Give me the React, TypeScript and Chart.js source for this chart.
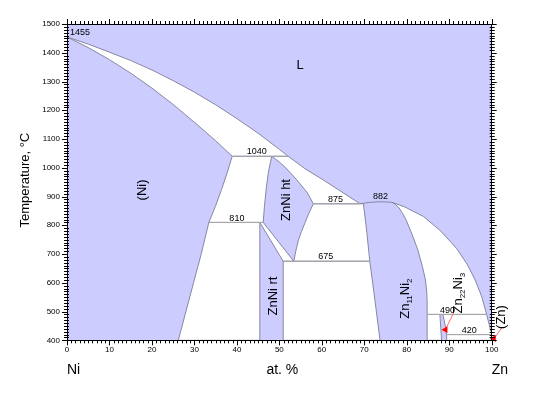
import React, { useEffect, useRef } from "react";
import { Chart, registerables } from "chart.js";

Chart.register(...registerables);

type P = [number, number];

// ---- Phase boundaries (at.% Zn, °C) ----
const liqNi: P[] = [[0, 1455], [5, 1430], [10, 1402], [15, 1373], [20, 1340], [25, 1303], [30, 1263], [35, 1219], [40, 1171], [45, 1120], [50, 1064], [52.1, 1040]];
const solNi: P[] = [[0, 1455], [5, 1418], [10, 1376], [15, 1329], [20, 1277], [25, 1220], [30, 1158], [35, 1094], [38.9, 1040]];
const solvusNiHigh: P[] = [[38.9, 1040], [37.7, 982], [36.4, 925], [35.0, 868], [33.4, 810]];
const solvusNiLow: P[] = [[33.4, 810], [31.6, 700], [29.8, 600], [28.0, 500], [26.2, 400]];
const htLeft: P[] = [[48.2, 1040], [47.4, 983], [46.9, 926], [46.5, 868], [46.2, 810]];
const htRightHigh: P[] = [[48.2, 1040], [50.0, 1020], [51.5, 1000], [54.1, 958], [56.5, 915], [58.0, 875]];
const htRightLow: P[] = [[58.0, 875], [56.9, 840], [56.0, 807], [55.2, 778], [54.5, 749], [53.9, 712], [53.4, 675]];
const liqHt: P[] = [[52.1, 1040], [56.0, 997], [60.3, 958], [64.8, 915], [69.0, 875]];
const hump: P[] = [[69.0, 875], [71.2, 879.5], [73.8, 882], [76.5, 880]];
const zn11LeftHigh: P[] = [[69.8, 875], [70.6, 775], [71.3, 675]];
const zn11LeftLow: P[] = [[71.3, 675], [72.5, 540], [73.7, 400]];
const zn11Right: P[] = [[76.5, 880], [77.4, 872], [78.2, 860], [79.0, 842], [79.8, 820], [81.2, 770], [82.6, 715], [83.8, 650], [84.4, 610], [84.7, 570], [84.8, 530], [84.8, 490]];
const zn11Vert: P[] = [[84.8, 490], [84.8, 400]];
const liqZn: P[] = [[76.5, 880], [79.5, 864], [84.0, 830], [88.0, 780], [91.7, 720], [94.2, 665], [96.1, 610], [97.7, 550], [98.8, 490]];
const liqZnLow: P[] = [[98.8, 490], [99.5, 450], [100, 420]];
const zn22Left: P[] = [[87.8, 490], [88.2, 400]];
const zn22Right: P[] = [[88.5, 490], [89.0, 455], [89.4, 420], [89.4, 400]];
const rtLeft: P[] = [[45.4, 810], [45.4, 400]];
const rtRight: P[] = [[50.9, 675], [50.9, 400]];
const znEdge: P[] = [[100, 420], [100, 400]];

// invariant reactions: temperature, from, to
const invT = [1040, 810, 875, 675, 490, 420];
const invFrom = [38.9, 33.4, 58.0, 50.9, 84.8, 89.4];
const invTo = [52.1, 46.2, 69.0, 71.3, 98.8, 100];

// arrows (start near label, tip)
const arrow1: P[] = [[91.0, 494], [89.1, 437]];
const arrow2: P[] = [[102.6, 447], [100.5, 406]];

// text
const tempLabels: [string, number, number][] = [
  ["1455", 0.7, 1471],
  ["1040", 44.7, 1056],
  ["810", 40.0, 825],
  ["875", 63.2, 890],
  ["882", 73.8, 899],
  ["675", 60.9, 690],
  ["490", 89.6, 504],
  ["420", 94.7, 433],
];
type Part = { t: string; sub?: boolean };
const phaseLabels: { parts: Part[]; x: number; y: number; rot: boolean }[] = [
  { parts: [{ t: "L" }], x: 54.9, y: 1361, rot: false },
  { parts: [{ t: "(Ni)" }], x: 17.6, y: 923, rot: true },
  { parts: [{ t: "ZnNi ht" }], x: 51.3, y: 888, rot: true },
  { parts: [{ t: "ZnNi rt" }], x: 48.4, y: 554, rot: true },
  { parts: [{ t: "Zn" }, { t: "11", sub: true }, { t: "Ni" }, { t: "2", sub: true }], x: 79.4, y: 545, rot: true },
  { parts: [{ t: "Zn" }, { t: "22", sub: true }, { t: "Ni" }, { t: "3", sub: true }], x: 91.9, y: 564, rot: true },
  { parts: [{ t: "(Zn)" }], x: 102, y: 481, rot: true },
];
const xMin = 0, xMax = 100, yMin = 400, yMax = 1500;
const xMajor = 10, xMinorStep = 1, yMajor = 100, yMinorStep = 10;

const FONT = "'Liberation Sans', Arial, sans-serif";
const BLUE = "#ccccff";
const CURVE = "#8787a3";
const INV = "#aaaaaa";

const rev = (a: P[]) => [...a].reverse();
const close = (a: P[]) => [...a, a[0]];
const toXY = (a: P[]) => a.map(([x, y]) => ({ x, y }));

const polygons: P[][] = [
  [...liqNi, ...rev(solNi)],
  [...htLeft, ...rev(solvusNiHigh)],
  [...solvusNiLow, ...rev(rtLeft)],
  [rtLeft[0], htLeft[htLeft.length - 1], htRightLow[htRightLow.length - 1], rtRight[0]],
  [...htRightHigh, ...rev(liqHt)],
  [...zn11LeftHigh, ...rev(htRightLow)],
  [rtRight[0], ...zn11LeftLow, rtRight[1]],
  [...liqZn, ...rev(zn11Right)],
  [zn11Vert[0], ...zn22Left, zn11Vert[1]],
  [zn22Right[0], zn22Right[1], zn22Right[2], ...rev(liqZnLow)],
  [zn22Right[2], znEdge[0], znEdge[1], zn22Right[3]],
];

const bgPlugin = {
  id: "bg",
  beforeDraw(chart: any) {
    const { ctx, chartArea: a } = chart;
    ctx.save();
    ctx.fillStyle = "#ffffff";
    ctx.fillRect(0, 0, chart.width, chart.height);
    ctx.fillStyle = BLUE;
    ctx.fillRect(a.left, a.top, a.right - a.left, a.bottom - a.top);
    ctx.restore();
  },
};

// tick marks on all four sides, placed with the chart's own scales
const tickPlugin = {
  id: "ticksAll",
  afterDraw(chart: any) {
    const { ctx, chartArea: a } = chart;
    const xs = chart.scales.x;
    const ys = chart.scales.y;
    ctx.save();
    ctx.strokeStyle = "#000000";
    ctx.lineWidth = 1;
    ctx.beginPath();
    for (let v = xMin; v <= xMax + 1e-9; v += xMinorStep) {
      const px = Math.round(xs.getPixelForValue(v)) + 0.5;
      const major = Math.abs(v / xMajor - Math.round(v / xMajor)) < 1e-6;
      const len = major ? 5 : 3;
      ctx.moveTo(px, a.bottom);
      ctx.lineTo(px, a.bottom + len);
      ctx.moveTo(px, a.top);
      ctx.lineTo(px, a.top - len);
    }
    for (let v = yMin; v <= yMax + 1e-9; v += yMinorStep) {
      const py = Math.round(ys.getPixelForValue(v)) + 0.5;
      const major = Math.abs(v / yMajor - Math.round(v / yMajor)) < 1e-6;
      const len = major ? 5 : 3;
      ctx.moveTo(a.left - len, py);
      ctx.lineTo(a.left + (major ? 0 : 2), py);
      ctx.moveTo(a.right - (major ? 0 : 2), py);
      ctx.lineTo(a.right + len, py);
    }
    ctx.stroke();
    ctx.restore();
  },
};

function drawRich(ctx: CanvasRenderingContext2D, parts: Part[], cx: number, cy: number, size: number, rot: boolean) {
  ctx.save();
  ctx.translate(cx, cy);
  if (rot) ctx.rotate(-Math.PI / 2);
  const subSize = Math.round(size * 0.62);
  let total = 0;
  const widths = parts.map((p) => {
    ctx.font = `${p.sub ? subSize : size}px ${FONT}`;
    const w = ctx.measureText(p.t).width;
    total += w;
    return w;
  });
  let xx = -total / 2;
  ctx.textAlign = "left";
  ctx.textBaseline = "alphabetic";
  ctx.fillStyle = "#000";
  const base = size * 0.36;
  parts.forEach((p, i) => {
    ctx.font = `${p.sub ? subSize : size}px ${FONT}`;
    ctx.fillText(p.t, xx, base + (p.sub ? size * 0.22 : 0));
    xx += widths[i];
  });
  ctx.restore();
}

const textPlugin = {
  id: "texts",
  afterDraw(chart: any) {
    const { ctx } = chart;
    const xs = chart.scales.x;
    const ys = chart.scales.y;
    ctx.save();
    ctx.fillStyle = "#000";
    ctx.textBaseline = "middle";
    ctx.font = `9px ${FONT}`;
    tempLabels.forEach(([t, x, y], i) => {
      ctx.textAlign = i === 0 ? "left" : "center";
      ctx.fillText(t, xs.getPixelForValue(x), ys.getPixelForValue(y));
    });
    phaseLabels.forEach((l) => {
      drawRich(ctx, l.parts, xs.getPixelForValue(l.x), ys.getPixelForValue(l.y), 13, l.rot);
    });
    const a = chart.chartArea;
    ctx.font = `14px ${FONT}`;
    ctx.textBaseline = "middle";
    ctx.textAlign = "left";
    ctx.fillText("Ni", xs.getPixelForValue(xMin), 370);
    ctx.fillText("Zn", xs.getPixelForValue(xMax), 370);
    ctx.textAlign = "center";
    ctx.fillText("at. %", (a.left + a.right) / 2 + 3, 370);
    ctx.save();
    ctx.translate(25, (a.top + a.bottom) / 2 - 2);
    ctx.rotate(-Math.PI / 2);
    ctx.font = `13px ${FONT}`;
    ctx.fillText("Temperature, °C", 0, 0);
    ctx.restore();
    ctx.restore();
  },
};

function axis(position: string, step: number, min: number, max: number, size: number, labels: boolean, horizontal: boolean) {
  return {
    type: "linear",
    position,
    min,
    max,
    ticks: {
      display: labels,
      stepSize: step,
      autoSkip: false,
      maxRotation: 0,
      padding: horizontal ? 5 : 7,
      color: "#000",
      font: { family: FONT, size: 8 },
      callback: (v: any) => String(v),
    },
    grid: { drawOnChartArea: false, drawTicks: false, display: false },
    border: { display: true, color: "#000", width: 1, z: 1 },
    afterFit: (s: any) => {
      if (horizontal) s.height = size;
      else s.width = size;
    },
  };
}

export default function App() {
  const ref = useRef<HTMLCanvasElement | null>(null);
  useEffect(() => {
    if (!ref.current) return;
    const datasets: any[] = [];
    // arrows
    [arrow1, arrow2].forEach((a) => {
      datasets.push({
        data: toXY(a),
        borderColor: "#ff7070",
        borderWidth: 1,
        pointRadius: [0, 4],
        pointStyle: "triangle",
        pointRotation: [0, 270],
        pointBackgroundColor: "#ff0000",
        pointBorderColor: "#ff0000",
        pointBorderWidth: 0,
        fill: false,
        clip: false,
        order: 1,
      });
    });
    // invariant lines
    invT.forEach((t, i) => {
      datasets.push({
        data: toXY([[invFrom[i], t], [invTo[i], t]]),
        borderColor: INV,
        borderWidth: 1,
        pointRadius: 0,
        fill: false,
        order: 2,
      });
    });
    // hump line
    datasets.push({ data: toXY(hump), borderColor: CURVE, borderWidth: 1, pointRadius: 0, fill: false, order: 2 });
    // two-phase polygons
    polygons.forEach((p) => {
      datasets.push({
        data: toXY(close(p)),
        fill: "shape",
        backgroundColor: "#ffffff",
        borderColor: CURVE,
        borderWidth: 1,
        pointRadius: 0,
        order: 3,
      });
    });
    const chart = new Chart(ref.current, {
      type: "line",
      data: { datasets },
      options: {
        responsive: false,
        animation: false,
        events: [],
        layout: { padding: { left: 0, top: 14, right: 58.3, bottom: 54.7 } },
        elements: { line: { tension: 0 } },
        plugins: { legend: { display: false }, tooltip: { enabled: false }, title: { display: false } },
        scales: {
          x: axis("bottom", xMajor, xMin, xMax, 25, true, true),
          xTop: axis("top", xMajor, xMin, xMax, 10, false, true),
          y: axis("left", yMajor, yMin, yMax, 67, true, false),
          yRight: axis("right", yMajor, yMin, yMax, 10, false, false),
        } as any,
      },
      plugins: [bgPlugin, tickPlugin, textPlugin],
    });
    return () => chart.destroy();
  }, []);
  return (
    <div style={{ position: "absolute", left: 0, top: 0, width: 560, height: 420 }}>
      <canvas ref={ref} width={560} height={420} />
    </div>
  );
}
